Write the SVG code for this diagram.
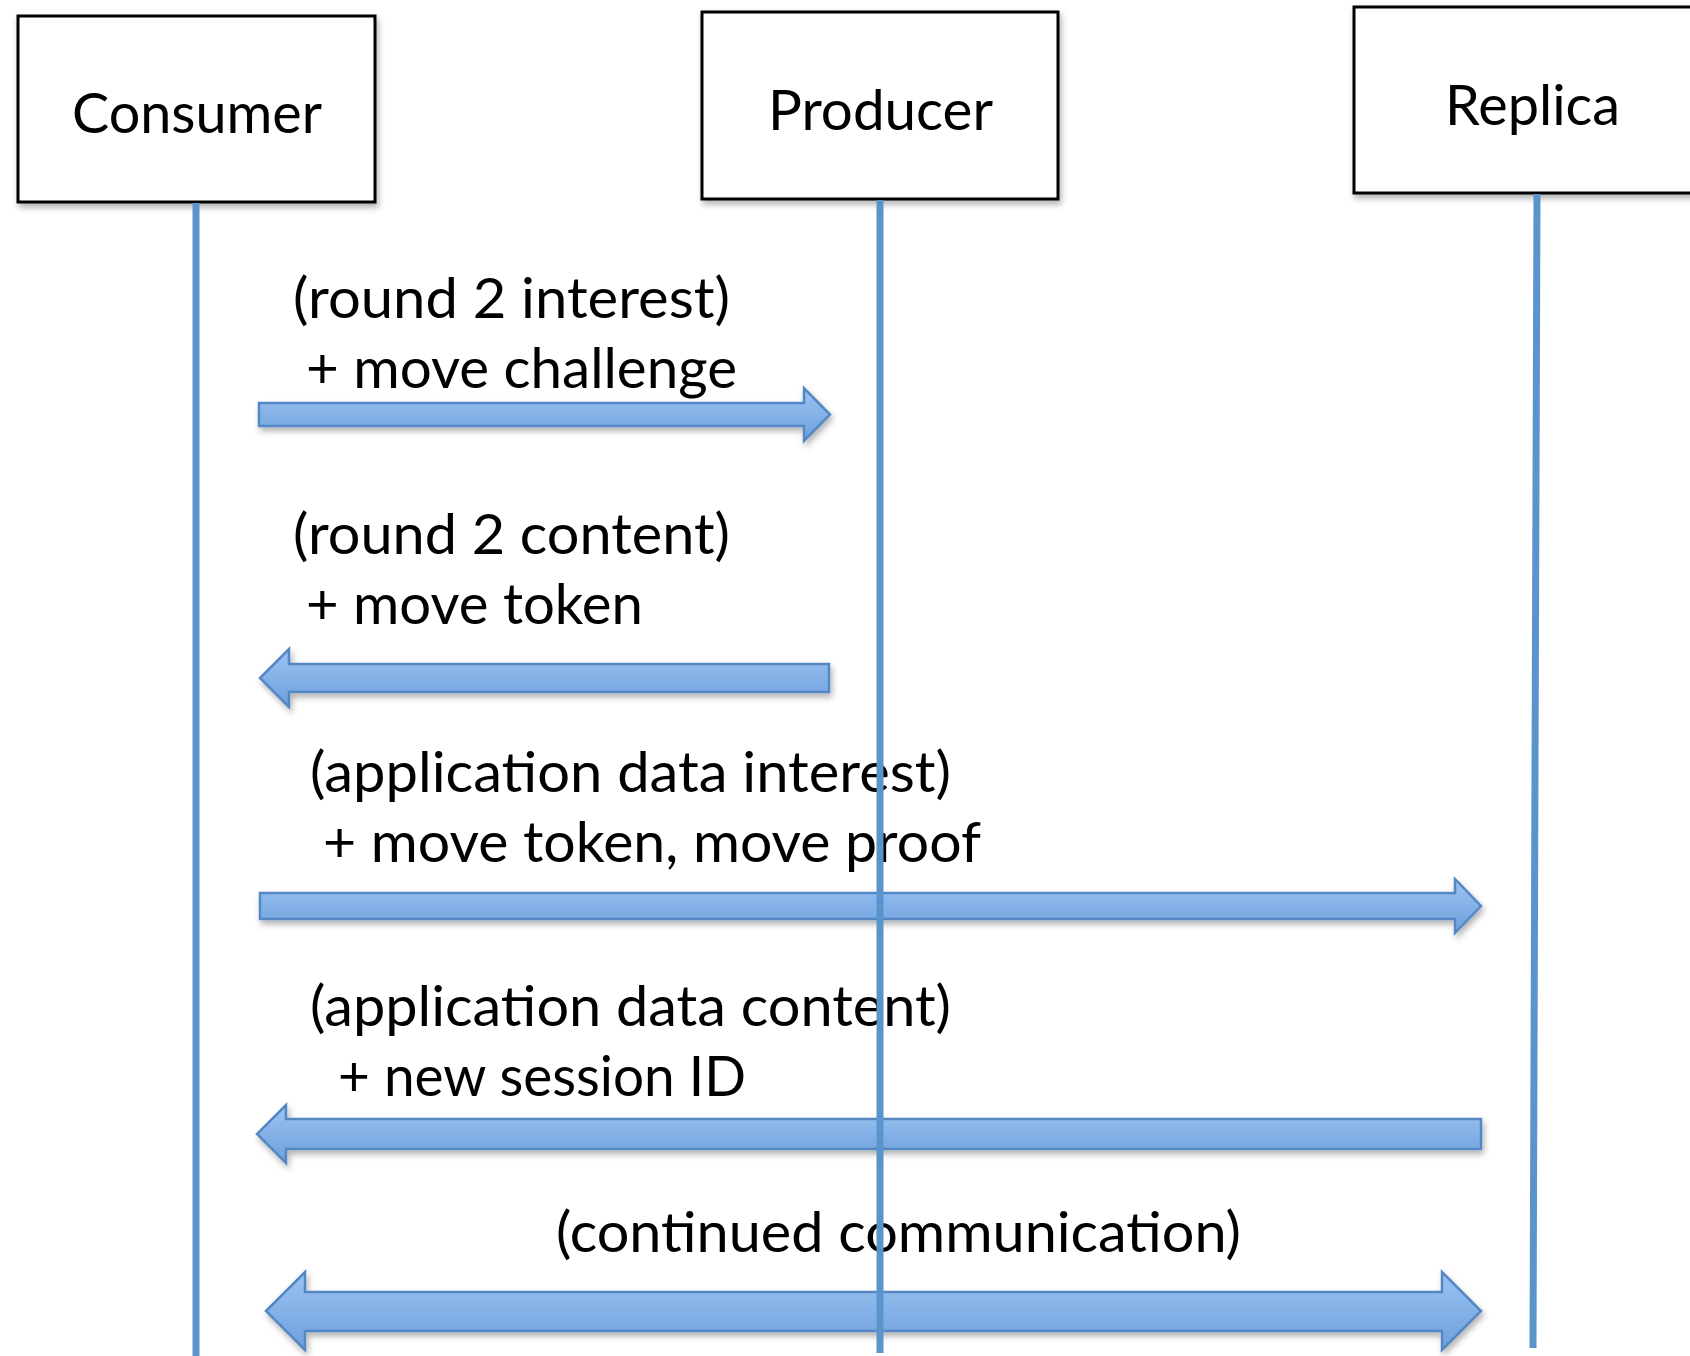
<svg xmlns="http://www.w3.org/2000/svg" width="1690" height="1356" viewBox="0 0 1690 1356">
<defs>
<linearGradient id="ag" x1="0" y1="0" x2="0" y2="1">
<stop offset="0" stop-color="#9cc4f3"/>
<stop offset="1" stop-color="#6c9fdb"/>
</linearGradient>
<filter id="sh" x="-5%" y="-20%" width="110%" height="160%">
<feDropShadow dx="2" dy="4" stdDeviation="3" flood-color="#000" flood-opacity="0.3"/>
</filter>
<filter id="bsh" x="-5%" y="-5%" width="115%" height="120%">
<feDropShadow dx="2" dy="4" stdDeviation="3" flood-color="#000" flood-opacity="0.3"/>
</filter>
</defs>
<style>
.box{fill:#fff;stroke:#000;stroke-width:3}
.life{stroke:#5b93cd;stroke-width:7;fill:none}
.arr{fill:url(#ag);stroke:#5587c4;stroke-width:2.5;stroke-linejoin:miter}
.t{font-family:Lato,"Open Sans","Liberation Sans",sans-serif;font-size:57px;fill:#000}
</style>
<rect width="1690" height="1356" fill="#fff"/>
<g id="connectors">
<text class="t" x="293" y="318" textLength="437" lengthAdjust="spacingAndGlyphs">(round 2 interest)</text>
<text class="t" x="306" y="388" textLength="431" lengthAdjust="spacingAndGlyphs">+ move challenge</text>
<path class="arr" filter="url(#sh)" d="M259,403 L804,403 L804,388 L830,414.5 L804,441 L804,426 L259,426 Z"/>
<text class="t" x="293" y="554" textLength="437" lengthAdjust="spacingAndGlyphs">(round 2 content)</text>
<text class="t" x="306" y="624" textLength="337" lengthAdjust="spacingAndGlyphs">+ move token</text>
<path class="arr" filter="url(#sh)" d="M829,664 L289,664 L289,649 L260,678 L289,707 L289,692 L829,692 Z"/>
<text class="t" x="310" y="792" textLength="641" lengthAdjust="spacingAndGlyphs">(application data interest)</text>
<text class="t" x="323" y="862" textLength="658" lengthAdjust="spacingAndGlyphs">+ move token, move proof</text>
<path class="arr" filter="url(#sh)" d="M260,893 L1455,893 L1455,879 L1481,906 L1455,933 L1455,919 L260,919 Z"/>
<text class="t" x="310" y="1026" textLength="641" lengthAdjust="spacingAndGlyphs">(application data content)</text>
<text class="t" x="338" y="1096" textLength="408" lengthAdjust="spacingAndGlyphs">+ new session ID</text>
<path class="arr" filter="url(#sh)" d="M1481,1119 L286,1119 L286,1105 L257,1134 L286,1163 L286,1149 L1481,1149 Z"/>
<text class="t" x="556" y="1252" textLength="685" lengthAdjust="spacingAndGlyphs">(continued communication)</text>
<path class="arr" filter="url(#sh)" d="M266,1311 L305,1272 L305,1292 L1442,1292 L1442,1272 L1481,1311 L1442,1350 L1442,1331 L305,1331 L305,1350 Z"/>
</g>
<g id="consumer">
<rect class="box" filter="url(#bsh)" x="18" y="16" width="357" height="186"/>
<text class="t" x="72" y="133" textLength="250" lengthAdjust="spacingAndGlyphs">Consumer</text>
<line class="life" x1="196" y1="203" x2="196" y2="1356"/>
</g>
<g id="producer">
<rect class="box" filter="url(#bsh)" x="702" y="12" width="356" height="187"/>
<text class="t" x="768" y="130" textLength="225" lengthAdjust="spacingAndGlyphs">Producer</text>
<line class="life" x1="880" y1="200" x2="880" y2="1353"/>
</g>
<g id="replica">
<rect class="box" filter="url(#bsh)" x="1354" y="7" width="360" height="186"/>
<text class="t" x="1445" y="125" textLength="175" lengthAdjust="spacingAndGlyphs">Replica</text>
<line class="life" x1="1537" y1="194" x2="1533" y2="1348"/>
</g>
</svg>
